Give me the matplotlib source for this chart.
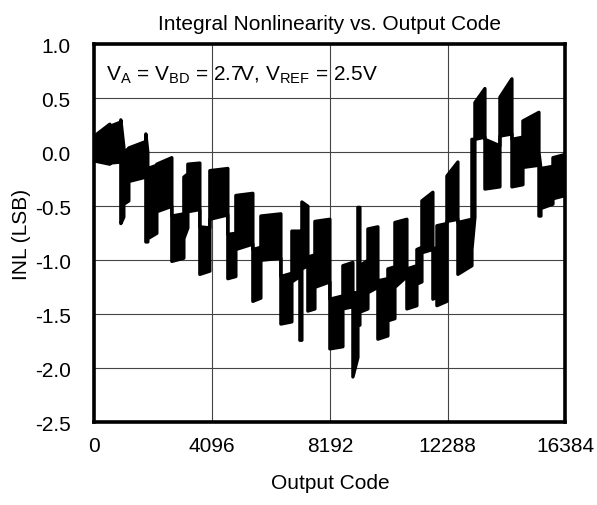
import matplotlib
matplotlib.use("Agg")

import matplotlib.pyplot as plt
import numpy as np

plt.rcParams.update({
    "font.family": ["Liberation Sans", "DejaVu Sans"],
    "mathtext.fontset": "custom",
    "mathtext.rm": "Liberation Sans",
    "axes.unicode_minus": False,
})

# INL trace read off the picture as blocks of codes with an upper and lower
# envelope (start / end value of each block), in LSB
blk_start = [0, 539, 922, 1026, 1200, 1792, 1861, 2174, 2696, 3114, 3253, 3670,
             4018, 4644, 4923, 5514, 5793, 6489, 6871, 7150, 7219, 7428, 7672,
             8193, 8646, 8994, 9168, 9237, 9516, 9863, 10211, 10455, 10872,
             11220, 11394, 11776, 11916, 12264, 12646, 13134, 13238, 13586,
             14108, 14525, 14908, 15465, 15534, 15952]
blk_end = blk_start[1:] + [16384]
hi_start = [0.15, 0.24, 0.30, 0.01, 0.04, 0.17, -0.15, -0.11, -0.59, -0.23, -0.11, -0.69,
            -0.17, -0.76, -0.40, -0.90, -0.59, -1.15, -0.73, -0.73, -0.46, -0.97, -0.64,
            -1.36, -1.05, -1.30, -0.51, -1.05, -0.71, -1.19, -1.08, -0.65, -1.08,
            -0.90, -0.45, -0.90, -0.68, -0.22, -0.65, 0.12, 0.46, 0.12,
            0.51, 0.12, 0.29, 0.00, -0.15, -0.05]
hi_end = [0.26, 0.28, 0.05, 0.03, 0.10, 0.00, -0.12, -0.05, -0.57, -0.20, -0.10, -0.70,
          -0.15, -0.75, -0.38, -0.88, -0.57, -1.12, -0.73, -0.73, -0.50, -0.95, -0.62,
          -1.33, -1.02, -1.30, -0.51, -1.00, -0.69, -1.17, -1.06, -0.62, -1.05,
          -0.88, -0.37, -0.88, -0.66, -0.09, -0.62, 0.12, 0.59, 0.06,
          0.68, 0.14, 0.37, -0.15, -0.13, -0.02]
lo_start = [-0.08, -0.10, -0.66, -0.48, -0.27, -0.83, -0.80, -0.55, -1.01, -0.80, -0.55, -1.13,
            -0.62, -1.17, -0.90, -1.38, -1.00, -1.59, -1.20, -1.74, -1.08, -1.47, -1.25,
            -1.82, -1.45, -2.08, -1.60, -1.48, -1.30, -1.73, -1.56, -1.25, -1.45,
            -1.22, -0.93, -1.36, -1.42, -0.64, -1.13, -0.90, 0.12, -0.34,
            0.15, -0.32, -0.14, -0.59, -0.52, -0.43]
lo_end = [-0.11, -0.09, -0.60, -0.45, -0.23, -0.83, -0.75, -0.50, -0.98, -0.70, -0.53, -1.10,
          -0.58, -1.15, -0.85, -1.35, -0.98, -1.57, -1.15, -1.74, -1.05, -1.45, -1.20,
          -1.80, -1.43, -1.90, -1.60, -1.45, -1.25, -1.70, -1.54, -1.15, -1.42,
          -1.20, -0.90, -1.34, -1.38, -0.62, -1.05, -0.60, 0.14, -0.32,
          0.17, -0.30, -0.12, -0.59, -0.48, -0.40]

x_ticks = [0, 4096, 8192, 12288, 16384]
y_ticks = [1.0, 0.5, 0.0, -0.5, -1.0, -1.5, -2.0, -2.5]

codes = np.ravel(np.column_stack([blk_start, blk_end]))
upper = np.ravel(np.column_stack([hi_start, hi_end]))
lower = np.ravel(np.column_stack([lo_start, lo_end]))

fig = plt.figure(figsize=(5.97, 5.06), dpi=100)
ax = fig.add_axes([0.158, 0.1634, 0.789, 0.7471])

ax.fill_between(codes, lower, upper, color="black", lw=0, zorder=3)
ax.plot(codes, upper, color="black", lw=2.4, zorder=3)
ax.plot(codes, lower, color="black", lw=2.4, zorder=3)

ax.set_xlim(0, 16384)
ax.set_ylim(-2.5, 1.0)
ax.set_xticks(x_ticks)
ax.set_xticklabels([str(t) for t in x_ticks])
ax.set_yticks(y_ticks)
ax.set_yticklabels([f"{t:.1f}" for t in y_ticks])
ax.tick_params(length=0, labelsize=15)
ax.tick_params(axis="y", pad=17)
ax.tick_params(axis="x", pad=10)
ax.grid(True, color="#444444", lw=0.8)
ax.set_axisbelow(True)
for s in ax.spines.values():
    s.set_linewidth(2.6)
    s.set_color("black")
    s.set_zorder(5)

ax.set_xlabel("Output Code", fontsize=15, labelpad=13)
ax.set_ylabel("INL (LSB)", fontsize=15, labelpad=3)
ax.set_title("Integral Nonlinearity vs. Output Code", fontsize=15, pad=11)

ax.text(0.024, 0.908,
        r"V$_\mathregular{A}$ = V$_\mathregular{BD}$ = 2.7V, V$_\mathregular{REF}$ = 2.5V",
        transform=ax.transAxes, fontsize=15, va="baseline", ha="left", zorder=4)

fig.savefig("out.png", dpi=100)
